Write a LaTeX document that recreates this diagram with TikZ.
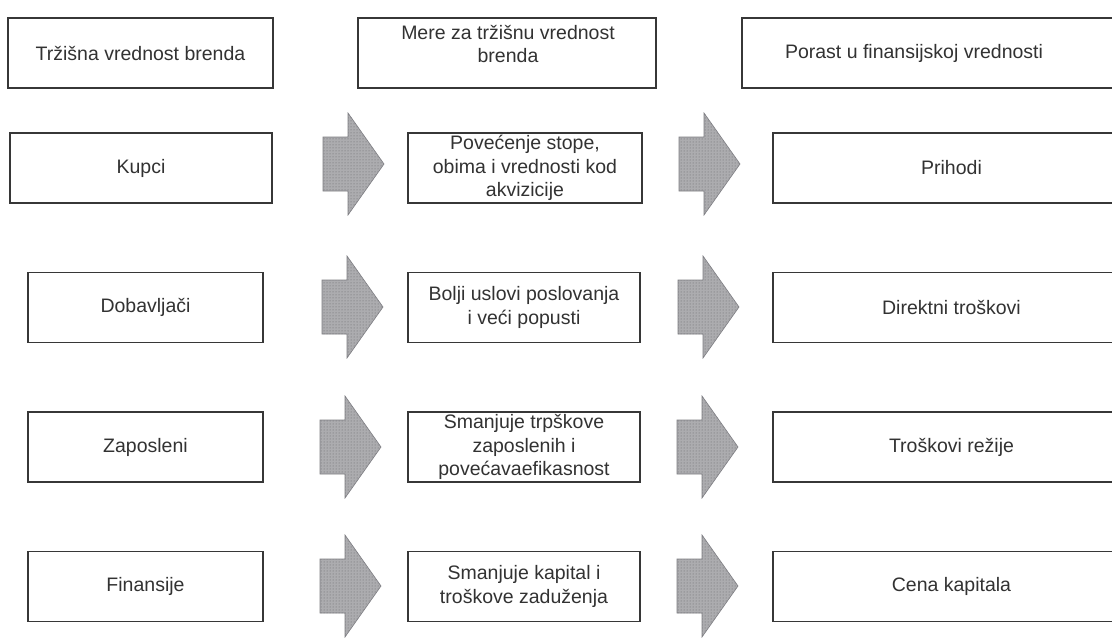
\documentclass[tikz,border=0pt]{standalone}
\usepackage{fontspec}
\setmainfont{Liberation Sans}
\usetikzlibrary{patterns}
\definecolor{boxline}{RGB}{55,55,55}
\definecolor{ink}{RGB}{50,50,50}
\definecolor{arrowfill}{RGB}{172,172,175}
\definecolor{arrowdot}{RGB}{100,100,105}
\definecolor{arrowedge}{RGB}{125,125,130}

\begin{document}
\begin{tikzpicture}[x=1pt,y=-1pt,
  box/.style={draw=boxline, line width=1.1pt, inner sep=0pt, minimum height=70pt},
  lbox/.style={box, minimum width=235pt},
  mbox/.style={box, minimum width=232pt},
  rbox/.style={box, minimum width=357pt},
  lbl/.style={text=ink, font=\fontsize{19.5}{23.5}\selectfont, align=center, inner sep=0pt},
  blockarrow/.pic={
    \draw[draw=arrowedge, line width=.6pt, preaction={fill=arrowfill},
          pattern=dots, pattern color=arrowdot]
      (0,-27) -- (25,-27) -- (25,-51) -- (61,0) -- (25,51) -- (25,27) -- (0,27) -- cycle;
  },
]
\useasboundingbox (0,0) rectangle (1112,643);
\fill[white] (0,0) rectangle (1112,643);
\clip (0,0) rectangle (1112,643);

% column headings
\node[box, minimum width=265pt] (hL) at (140.5,53) {};
\node[lbl] (hLt) at (hL) {Tržišna vrednost brenda};
\node[box, minimum width=298pt] (hM) at (507,53) {};
\node[lbl] (hMt) at (508,44) {Mere za tržišnu vrednost\\brenda};
\node[box, minimum width=388pt] (hR) at (936,53) {};
\node[lbl] (hRt) at (914,53) {Porast u finansijskoj vrednosti};

% row 1
\node[lbox, minimum width=262pt] (l1) at (141,168) {};
\node[lbl] at (l1) {Kupci};
\pic at (323,164) {blockarrow};
\node[mbox, minimum width=234pt] (m1) at (525,168) {};
\node[lbl] at (m1) {Povećenje stope,\\obima i vrednosti kod\\akvizicije};
\pic at (679,164) {blockarrow};
\node[rbox] (r1) at (951.5,168) {};
\node[lbl] at (r1) {Prihodi};

% row 2
\node[lbox] (l2) at (145.5,307.5) {};
\node[lbl] at (l2) {Dobavljači};
\pic at (322,307) {blockarrow};
\node[mbox] (m2) at (524,307.5) {};
\node[lbl] at (m2) {Bolji uslovi poslovanja\\i veći popusti};
\pic at (678,307) {blockarrow};
\node[rbox] (r2) at (951.5,307.5) {};
\node[lbl] at (r2) {Direktni troškovi};

% row 3
\node[lbox] (l3) at (145.5,447) {};
\node[lbl] at (l3) {Zaposleni};
\pic at (320,447) {blockarrow};
\node[mbox] (m3) at (524,447) {};
\node[lbl] at (m3) {Smanjuje trpškove\\zaposlenih i\\povećavaefikasnost};
\pic at (677,447) {blockarrow};
\node[rbox] (r3) at (951.5,447) {};
\node[lbl] at (r3) {Troškovi režije};

% row 4
\node[lbox] (l4) at (145.5,586.5) {};
\node[lbl] at (l4) {Finansije};
\pic at (320,586) {blockarrow};
\node[mbox] (m4) at (524,586.5) {};
\node[lbl] at (m4) {Smanjuje kapital i\\troškove zaduženja};
\pic at (677,586) {blockarrow};
\node[rbox] (r4) at (951.5,586.5) {};
\node[lbl] at (r4) {Cena kapitala};
\end{tikzpicture}
\end{document}
